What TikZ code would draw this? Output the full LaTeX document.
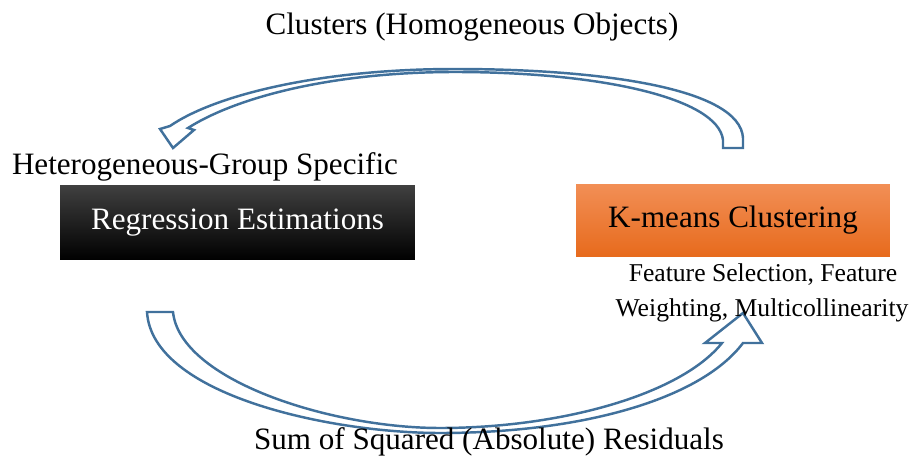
\documentclass[tikz,border=0pt]{standalone}
\usepackage{fontspec}
\setmainfont{Liberation Serif}
\usetikzlibrary{shapes}
\definecolor{arrowblue}{RGB}{65,113,156}
\definecolor{orangetop}{RGB}{242,143,86}
\definecolor{orangebot}{RGB}{231,106,28}
\tikzstyle{lbl}=[inner sep=0pt,anchor=base,font=\fontsize{17.7}{21}\selectfont]
\tikzstyle{sml}=[inner sep=0pt,anchor=base,font=\fontsize{14.6}{18}\selectfont]
\tikzstyle{blk}=[rectangle,inner sep=0pt,font=\fontsize{17.7}{21}\selectfont]
\tikzstyle{bigarrow}=[draw=arrowblue,line width=1.4pt,fill=white,line join=miter]

\begin{document}
\begin{tikzpicture}[x=0.02cm,y=-0.02cm]
\useasboundingbox (0,0) rectangle (918,459);
% boxes
\node[blk,minimum width=7.1cm,minimum height=1.5cm,text=white,top color=black!75,middle color=black,bottom color=black] (reg) at (237.5,222.5) {Regression Estimations};
\node[blk,minimum width=6.28cm,minimum height=1.46cm,top color=orangetop,bottom color=orangebot] (km) at (733,220.5) {K-means Clustering};
% curved arrow on top, K-means back to regression
\draw[bigarrow] (743,148) -- (743,138) .. controls (740,88) and (600,69) .. (455,69)
  .. controls (320,69) and (215,95) .. (170,126) -- (160,129) -- (173,148) -- (194,130) -- (188,128)
  .. controls (235,98) and (330,72) .. (455,72) .. controls (600,72) and (718,98) .. (723,140)
  -- (723,148) -- cycle;
% curved arrow at bottom, regression to K-means
\draw[bigarrow] (147,312) .. controls (152,395) and (330,433) .. (440,433)
  .. controls (580,433) and (700,400) .. (743,343) -- (762,343) -- (743,313) -- (705,343) -- (722,343)
  .. controls (680,395) and (560,428) .. (440,428) .. controls (330,428) and (180,380) .. (173,312)
  -- cycle;
% labels
\node[lbl] (clu) at (472,35) {Clusters (Homogeneous Objects)};
\node[lbl] (het) at (205,174) {Heterogeneous-Group Specific};
\node[sml] (fs1) at (763,281) {Feature Selection, Feature};
\node[sml] (fs2) at (762,316) {Weighting, Multicollinearity};
\node[lbl] (ssr) at (489,449) {Sum of Squared (Absolute) Residuals};
\end{tikzpicture}
\end{document}
